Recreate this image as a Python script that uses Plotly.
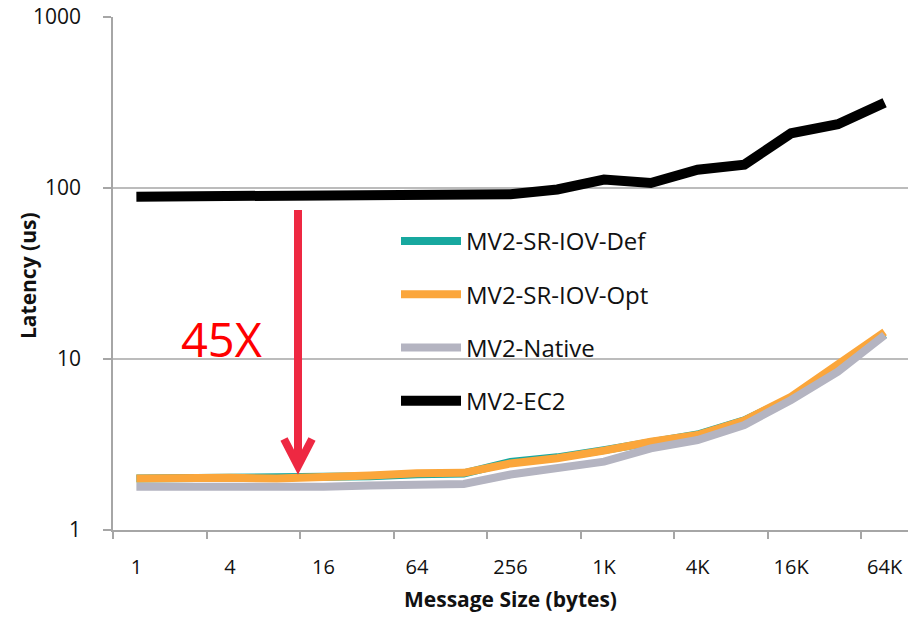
import plotly.graph_objects as go

# ---- data ----
categories = ["1", "2", "4", "8", "16", "32", "64", "128", "256", "512",
              "1K", "2K", "4K", "8K", "16K", "32K", "64K"]
tick_labels = ["1", "4", "16", "64", "256", "1K", "4K", "16K", "64K"]

mv2_sr_iov_def = [2.00, 2.01, 2.01, 2.00, 2.02, 2.06, 2.12, 2.14, 2.50, 2.66,
                  2.93, 3.30, 3.62, 4.38, 5.90, 9.00, 13.9]
mv2_sr_iov_opt = [2.00, 2.02, 2.02, 2.00, 2.02, 2.08, 2.15, 2.16, 2.45, 2.63,
                  2.91, 3.28, 3.59, 4.36, 6.02, 9.22, 14.4]
mv2_native = [1.79, 1.78, 1.78, 1.77, 1.79, 1.82, 1.83, 1.86, 2.11, 2.30,
              2.51, 3.00, 3.36, 4.11, 5.76, 8.43, 13.8]
mv2_ec2 = [89, 89, 89, 89, 89, 89, 89.5, 90.5, 92, 98,
           112, 107, 128, 137, 209, 236, 315]

y_ticks = [1, 10, 100, 1000]
grid_values = [10, 100]

series = [
    ("MV2-SR-IOV-Def", mv2_sr_iov_def, "#17A89F", 8),
    ("MV2-SR-IOV-Opt", mv2_sr_iov_opt, "#FBA63B", 8),
    ("MV2-Native", mv2_native, "#B4B4C1", 8),
    ("MV2-EC2", mv2_ec2, "#000000", 10),
]

xpos = list(range(len(categories)))
FONT = "Open Sans"
GRAY = "#A6A6A6"

fig = go.Figure()
for i, (name, vals, color, w) in enumerate(series):
    fig.add_trace(go.Scatter(
        x=xpos, y=vals, name=name, mode="lines",
        line=dict(color=color, width=w),
        legendgroup=f"g{i}",
        customdata=categories,
        hovertemplate="%{customdata}: %{y}<extra>" + name + "</extra>",
    ))

for g in grid_values:
    fig.add_hline(y=g, line=dict(color=GRAY, width=1.5), layer="below")

# category boundary tick marks (every second category)
boundaries = [i - 0.5 for i in range(0, len(categories), 2)]

fig.update_xaxes(
    automargin=False,
    range=[-0.5, len(categories) - 0.5],
    tickmode="array",
    tickvals=[categories.index(t) for t in tick_labels],
    ticktext=tick_labels,
    ticks="",
    ticklabelstandoff=18,
    ticklabeloverflow="allow",
    tickfont=dict(family=FONT, size=20, color="#111111"),
    showgrid=False, zeroline=False,
    showline=True, linecolor=GRAY, linewidth=1.5,
    minor=dict(tickmode="array", tickvals=boundaries, ticks="outside",
               ticklen=7, tickcolor=GRAY, tickwidth=1.5, showgrid=False),
    title=dict(text="<b>Message Size (bytes)</b>",
               font=dict(family=FONT, size=21, color="#111111"),
               standoff=14),
)

fig.update_yaxes(
    automargin=False,
    type="log",
    range=[0, 3],
    tickmode="array",
    tickvals=y_ticks,
    ticktext=[str(v) for v in y_ticks],
    ticks="outside", ticklen=8, tickcolor=GRAY, tickwidth=1.5,
    ticklabelstandoff=18,
    ticklabeloverflow="allow",
    tickfont=dict(family=FONT, size=21, color="#111111"),
    showgrid=False, zeroline=False,
    showline=True, linecolor=GRAY, linewidth=1.5,
)

# page coordinates (body margin removed below)
PL, PR, PT, PB = 113, 908, 17, 530
def px(X):
    return (X - PL) / float(PR - PL)
def py(Y):
    return (PB - Y) / float(PB - PT)

# y-axis title as rotated text
fig.add_annotation(text="<b>Latency (us)</b>", xref="paper", yref="paper",
                   x=px(28), y=py(276), xanchor="center", yanchor="middle",
                   textangle=-90, showarrow=False,
                   font=dict(family=FONT, size=21, color="#111111"))

# 45X annotation with red arrow
ARROW = "#EE2842"
path = (f"M {px(298)} {py(210)} L {px(298)} {py(462)} "
        f"M {px(284)} {py(439)} L {px(298)} {py(466)} L {px(312)} {py(439)}")
fig.add_shape(type="path", xref="paper", yref="paper", path=path,
              line=dict(color=ARROW, width=8))

fig.add_annotation(text="45X", xref="paper", yref="paper",
                   x=px(221), y=py(339), xanchor="center", yanchor="middle",
                   showarrow=False,
                   font=dict(family=FONT, size=47, color="#FF0000"))

W, H = 908, 617
fig.update_layout(
    width=W, height=H,
    margin=dict(l=PL, r=W - PR, t=PT, b=H - PB),
    paper_bgcolor="white", plot_bgcolor="white",
    showlegend=True,
    legend=dict(x=px(396), y=py(219), xanchor="left", yanchor="top",
                bgcolor="rgba(0,0,0,0)", borderwidth=0,
                font=dict(family=FONT, size=24, color="#111111"),
                tracegroupgap=19, itemwidth=60),
    font=dict(family=FONT),
)

fig.write_html(
    "out.html",
    config={"displayModeBar": False},
    post_script="document.body.style.margin='0';document.body.style.overflow='hidden';",
)
